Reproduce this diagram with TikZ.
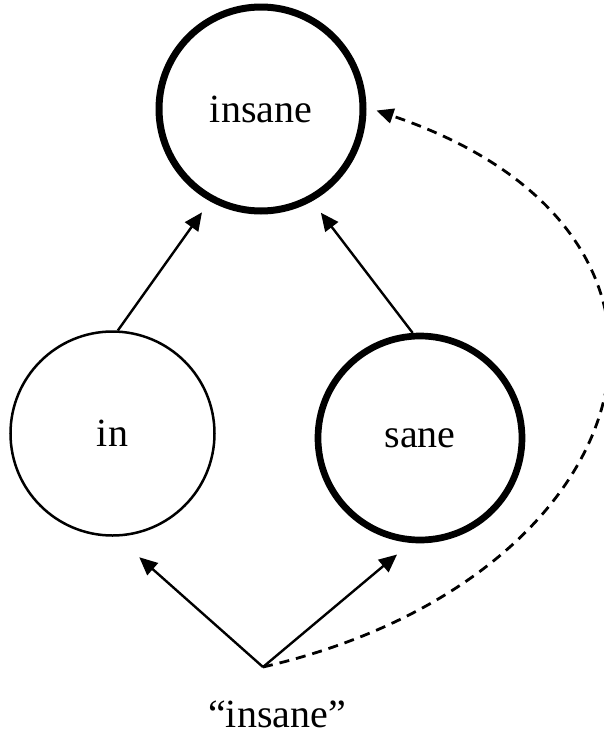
\documentclass[tikz,border=0pt]{standalone}
\usepackage{fontspec}
\setmainfont{Liberation Serif}
\usetikzlibrary{arrows.meta}
\begin{document}
\begin{tikzpicture}[x=1pt,y=-1pt,
  word/.style={circle,draw,inner sep=0pt,minimum size=204pt,font=\fontsize{40}{48}\selectfont},
  thin/.style={line width=2.5pt},
  thick/.style={line width=7pt},
  arr/.style={line width=2.4pt,-{Triangle[length=18pt,width=16pt]}},
  darr/.style={line width=2.8pt,dash pattern=on 10pt off 7pt,-{Triangle[length=17pt,width=15pt]}},
  lbl/.style={inner sep=0pt,font=\fontsize{40}{48}\selectfont}]
\useasboundingbox (0,0) rectangle (604,737);
\node[word,thick] (insane) at (261,109) {insane};
\node[word,thin] (in) at (112.5,433.5) {in};
\node[word,line width=6.7pt] (sane) at (420,438) {sane};
\coordinate (o) at (263,667);
\node[lbl] (q) at (277,714) {“insane”};
\draw[arr,shorten >=13.6pt] (in.87.5) -- (insane.241.7);
\draw[arr,shorten >=14.4pt] (sane.94) -- (insane.299.8);
\draw[arr,shorten >=31pt] (o) -- (in.272.6);
\draw[arr,shorten >=18pt] (o) -- (sane.265.7);
\draw[darr,shorten >=10.5pt] (o) .. controls (645,579) and (745,235) .. (insane.1);
\end{tikzpicture}
\end{document}
